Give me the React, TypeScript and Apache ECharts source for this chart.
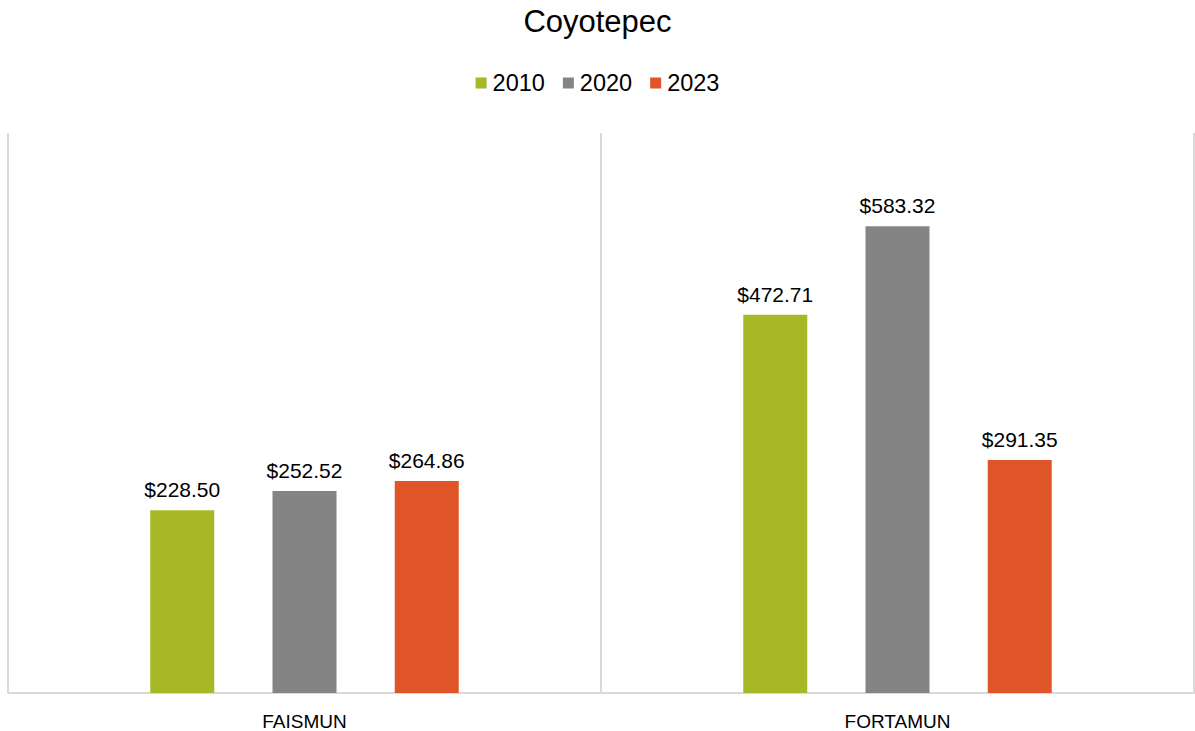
import React, { useEffect, useRef } from "react";
import * as echarts from "echarts";

const categories = ["FAISMUN", "FORTAMUN"];
const seriesNames = ["2010", "2020", "2023"];
const values2010 = [228.5, 472.71];
const values2020 = [252.52, 583.32];
const values2023 = [264.86, 291.35];
const colors = ["#A7B827", "#848484", "#E05528"];

export default function App() {
  const ref = useRef<HTMLDivElement>(null);
  useEffect(() => {
    const chart = echarts.init(ref.current!, null, { renderer: "svg" });
    const font = "Liberation Sans, Arial, sans-serif";
    const data = [values2010, values2020, values2023];
    chart.setOption({
      animation: false,
      backgroundColor: "#ffffff",
      textStyle: { fontFamily: font },
      title: {
        text: "Coyotepec",
        left: "center",
        top: 1,
        textStyle: { fontFamily: font, fontSize: 31, fontWeight: "normal", color: "#000000" },
      },
      legend: {
        data: seriesNames,
        top: 66,
        left: "center",
        icon: "rect",
        itemWidth: 11,
        itemHeight: 11,
        itemGap: 18,
        textStyle: { fontFamily: font, fontSize: 23.5, color: "#000000", padding: [0, 0, 0, 1] },
      },
      grid: { left: 8, right: 1, top: 133, bottom: 38, containLabel: false },
      xAxis: {
        type: "category",
        data: categories,
        axisLine: { show: true, lineStyle: { color: "#d9d9d9", width: 2 } },
        axisTick: { show: false },
        splitLine: { show: true, interval: 0, lineStyle: { color: "#d9d9d9", width: 2 } },
        axisLabel: { fontFamily: font, fontSize: 19, color: "#000000", margin: 19 },
      },
      yAxis: {
        type: "value",
        min: 0,
        max: 700,
        show: false,
        splitLine: { show: false },
      },
      series: seriesNames.map((name, i) => ({
        name,
        type: "bar",
        data: data[i],
        barWidth: 64,
        barGap: "91%",
        itemStyle: { color: colors[i] },
        label: {
          show: true,
          position: "top",
          distance: 10,
          fontFamily: font,
          fontSize: 21,
          color: "#000000",
          formatter: (p: any) => "$" + Number(p.value).toFixed(2),
        },
      })),
    });
    return () => chart.dispose();
  }, []);
  return (
    <div
      ref={ref}
      style={{ position: "fixed", left: 0, top: 0, width: 1195, height: 731 }}
    />
  );
}
